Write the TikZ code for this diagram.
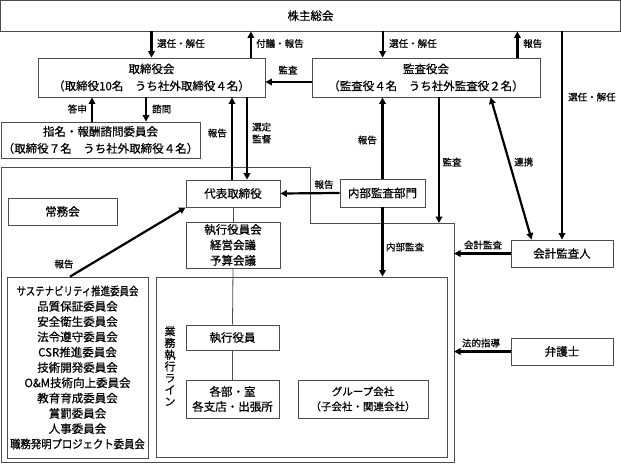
\documentclass[tikz,border=0pt]{standalone}
\usepackage{fontspec}
\usepackage{graphicx}
\setmainfont{Noto Sans CJK JP}[FakeBold=0.6]
\usetikzlibrary{arrows.meta}
\tikzset{
 box/.style={draw=black!70, line width=0.8pt, fill=white, inner sep=0pt, align=center, font=\fontsize{11.5}{17}\selectfont},
 arr/.style={line width=2.2pt, -{Triangle[length=6.5pt,width=6.5pt]}},
 darr/.style={line width=2.2pt, {Triangle[length=6.5pt,width=6.5pt]}-{Triangle[length=6.5pt,width=6.5pt]}},
 thinline/.style={draw=black!70, line width=0.8pt},
 lbl/.style={font=\fontsize{9.5}{12}\selectfont, inner sep=0pt, align=left},
}
\begin{document}
\begin{tikzpicture}[x=1pt,y=-1pt]
\useasboundingbox (0,0) rectangle (621,464);
% outer executive region
\draw[thinline] (1,167) -- (310,167) -- (310,223) -- (454,223) -- (454,462) -- (1,462) -- cycle;
\coordinate (kansaEnd) at (439,223);
\coordinate (kaikeiEnd) at (454,253.5);
\coordinate (hotekiEnd) at (454,351.5);

% nodes
\node[box, minimum width=620pt, minimum height=30.5pt] (kabunushi) at (310.5,15.75) {株主総会};
\node[box, minimum width=227pt, minimum height=39pt] (torishimari) at (151.5,77.5) {取締役会\\（取締役10名　うち社外取締役４名）};
\node[box, minimum width=228pt, minimum height=39pt] (kansayaku) at (426,77.5) {監査役会\\（監査役４名　うち社外監査役２名）};
\node[box, minimum width=199pt, minimum height=36pt] (shimei) at (100.5,140) {指名・報酬諮問委員会\\（取締役７名　うち社外取締役４名）};
\node[box, minimum width=94pt, minimum height=27pt] (daihyo) at (233,193.5) {代表取締役};
\node[box, minimum width=109pt, minimum height=27pt] (jomu) at (62.5,211.5) {常務会};
\node[box, minimum width=94pt, minimum height=46pt, font=\fontsize{11.5}{15.5}\selectfont] (shikkokai) at (233,245) {執行役員会\\経営会議\\予算会議};
\node[box, minimum width=85pt, minimum height=28pt] (naibu) at (382.5,193) {内部監査部門};
\node[box, minimum width=102pt, minimum height=27pt] (kaikei) at (562,253.5) {会計監査人};
\node[box, minimum width=102pt, minimum height=27pt] (bengoshi) at (562,351.5) {弁護士};
\node[box, minimum width=291pt, minimum height=180pt] (gyomu) at (301.5,367) {};
\node[font=\fontsize{11}{11.7}\selectfont, align=center, inner sep=0pt] (tate) at (170,366) {業\\務\\執\\行\\ラ\\イ\\ン};
\node[box, minimum width=93pt, minimum height=25pt] (shikkoyakuin) at (232.5,337.5) {執行役員};
\node[box, minimum width=93pt, minimum height=38pt, font=\fontsize{11.5}{15}\selectfont] (kakubu) at (232.5,399) {各部・室\\各支店・出張所};
\node[box, minimum width=130pt, minimum height=38pt, font=\fontsize{10.5}{15}\selectfont] (group) at (363,399) {グループ会社\\（子会社・関連会社）};
\node[box, minimum width=141pt, minimum height=181pt, font=\fontsize{11.5}{15.3}\selectfont] (iinkai) at (77.5,367.5)
 {\scalebox{0.82}[1]{サステナビリティ推進委員会}\\品質保証委員会\\安全衛生委員会\\法令遵守委員会\\CSR推進委員会\\技術開発委員会\\O\&M技術向上委員会\\教育育成委員会\\賞罰委員会\\人事委員会\\\scalebox{0.9}[1]{職務発明プロジェクト委員会}};

% thin connecting lines
\draw[thinline] (daihyo.south) -- (shikkokai.north);
\draw[thinline] (shikkokai.south) -- (shikkoyakuin.north);
\draw[thinline] (shikkoyakuin.south) -- (kakubu.north);

% arrows from/to shareholders meeting
\draw[arr] (kabunushi.south -| torishimari.north) -- (torishimari.north);
\node[lbl, anchor=west] (l1) at (157,43.5) {選任・解任};
\coordinate (a2) at ([xshift=-14.5pt]torishimari.north east);
\draw[arr] (a2) -- (a2 |- kabunushi.south);
\node[lbl, anchor=west] (l2) at (256,43.5) {付議・報告};
\coordinate (a3) at ([xshift=71pt]kansayaku.north west);
\draw[arr] (a3 |- kabunushi.south) -- (a3);
\node[lbl, anchor=west] (l3) at (389,43.5) {選任・解任};
\coordinate (a4) at ([xshift=-23pt]kansayaku.north east);
\draw[arr] (a4) -- (a4 |- kabunushi.south);
\node[lbl, anchor=west] (l4) at (523,43.5) {報告};
\draw[arr] (kabunushi.south -| kaikei.north) -- (kaikei.north);
\node[lbl, anchor=west] (l5) at (568,97) {選任・解任};

% audit board -> board
\draw[arr] (kansayaku.west |- 0,82) -- (torishimari.east |- 0,82);
\node[lbl] (l6) at (288,70) {監査};

% board <-> nomination committee
\coordinate (a7) at ([xshift=-8.5pt]shimei.north);
\draw[arr] (a7) -- (a7 |- torishimari.south);
\node[lbl, anchor=east] (l7) at (87,109) {答申};
\coordinate (a8) at ([xshift=45.5pt]shimei.north);
\draw[arr] (a8 |- torishimari.south) -- (a8);
\node[lbl, anchor=west] (l8) at (152,109) {諮問};

% board <-> representative director
\coordinate (a9) at ([xshift=-1pt]daihyo.north);
\draw[arr] (a9) -- (a9 |- torishimari.south);
\node[lbl, anchor=east] (l9) at (227,133) {報告};
\coordinate (a10) at ([xshift=14pt]daihyo.north);
\draw[arr] (a10 |- torishimari.south) -- (a10);
\node[lbl, anchor=west] (l10) at (252,133) {選定\\監督};

% internal audit
\draw[arr] (naibu.west) -- (daihyo.east);
\node[lbl] (l11) at (324,184.5) {報告};
\draw[arr] (naibu.north) -- (naibu.north |- kansayaku.south);
\node[lbl, anchor=east] (l12) at (377,140) {報告};
\draw[arr] (naibu.south) -- (naibu.south |- gyomu.north);
\node[lbl] (l13) at (405,247) {内部監査};

% audit board -> executive region
\draw[arr] (kansayaku.south -| kansaEnd) -- (kansaEnd);
\node[lbl] (l14) at (452,162) {監査};

% cooperation
\coordinate (rk1) at ([xshift=179pt]kansayaku.south west);
\coordinate (rk2) at ([xshift=21pt]kaikei.north west);
\draw[darr] (rk1) -- (rk2);
\node[lbl, anchor=west] (l15) at (514,162) {連携};

% accounting auditor, lawyer
\draw[arr] (kaikei.west) -- (kaikeiEnd);
\node[lbl] (l16) at (483,245) {会計監査};
\draw[arr] (bengoshi.west) -- (hotekiEnd);
\node[lbl] (l17) at (481,343) {法的指導};

% committees -> representative director
\coordinate (a18) at ([xshift=-7.5pt]iinkai.north);
\draw[arr] (a18) -- (daihyo.south west);
\node[lbl] (l18) at (64,264) {報告};
\end{tikzpicture}
\end{document}
